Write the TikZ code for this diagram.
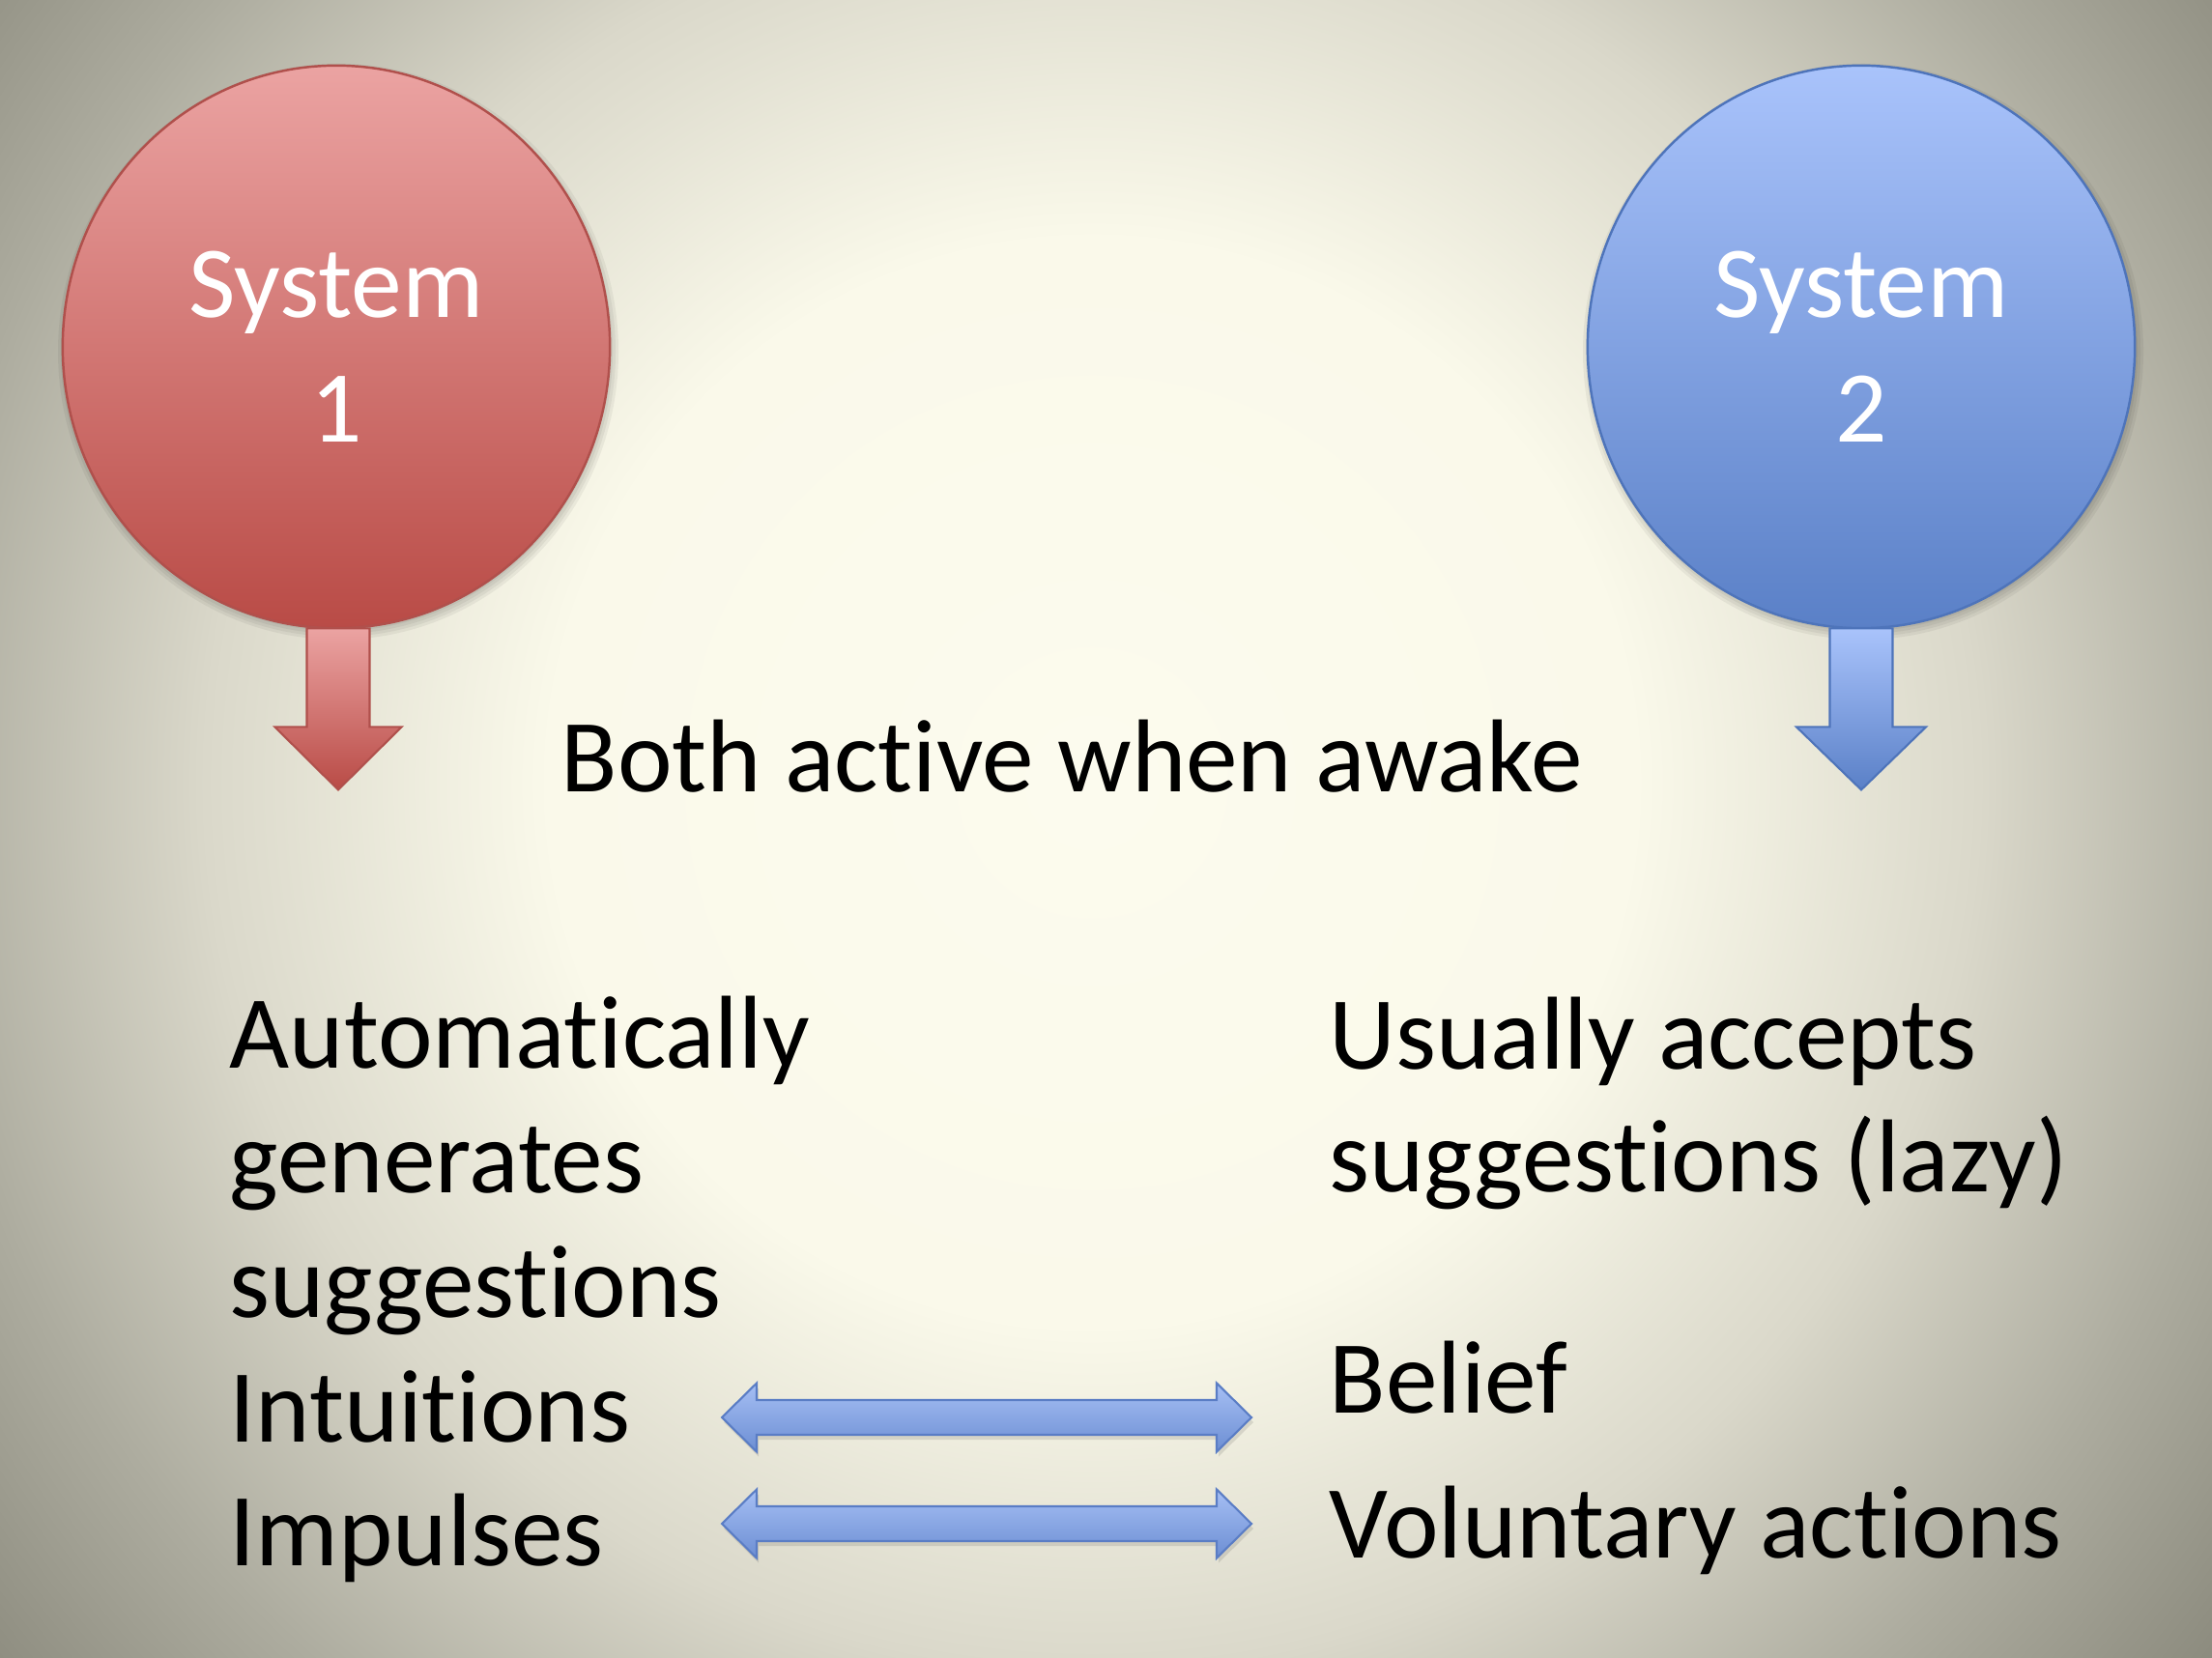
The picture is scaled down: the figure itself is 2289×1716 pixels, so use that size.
\documentclass[tikz,border=0pt]{standalone}
\usepackage{fontspec}
\setmainfont[Ligatures=NoCommon]{Carlito}
\usetikzlibrary{shapes.geometric,calc}

% slide background colours
\definecolor{bgA}{HTML}{FCFBEE}
\definecolor{bgB}{HTML}{FAF9EA}
\definecolor{bgC}{HTML}{DAD8CA}
\definecolor{bgD}{HTML}{ADAC9F}
\definecolor{bgE}{HTML}{8B8A7D}
% shape colours
\definecolor{redTop}{HTML}{EBA3A2}
\definecolor{redBot}{HTML}{B94B46}
\definecolor{redEdge}{HTML}{B0504C}
\definecolor{bluTop}{HTML}{A9C3FB}
\definecolor{bluBot}{HTML}{5A80C7}
\definecolor{bluEdge}{HTML}{4E74BA}
\definecolor{dblTop}{HTML}{A6BFF4}
\definecolor{dblBot}{HTML}{6C8ED3}
\definecolor{dblEdge}{HTML}{5A7DC5}

% the 25bp ring of a radial shading lands on the edge of the shaded circle
\pgfdeclareradialshading{slideglow}{\pgfpoint{0bp}{0bp}}{%
  color(0bp)=(bgA); color(9.5bp)=(bgB); color(15.5bp)=(bgC);
  color(20.5bp)=(bgD); color(25bp)=(bgE); color(50bp)=(bgE)}

\newcommand\ballfont{\fontsize{30}{36.7}\selectfont}
\newcommand\bodyfont{\fontsize{30.5}{36}\selectfont}

\begin{document}
\begin{tikzpicture}[x=0.01cm, y=-0.01cm,
  sysball/.style={ellipse, minimum width=5.66cm, minimum height=5.82cm,
      inner sep=0pt, align=center, text=white, font=\ballfont,
      line width=0.7pt},
  haze/.style={fill=black, fill opacity=0.05, draw=none},
  redfill/.style={top color=redTop, bottom color=redBot, draw=redEdge},
  blufill/.style={top color=bluTop, bottom color=bluBot, draw=bluEdge},
  downarrow/.style={line width=0.6pt, line join=miter},
  dblarrow/.style={top color=dblTop, bottom color=dblBot, draw=dblEdge,
      line width=0.6pt, line join=miter},
  txt/.style={anchor=base west, inner sep=0pt, font=\bodyfont, text=black}]

\useasboundingbox (0,0) rectangle (2289,1716);

% background glow
\begin{scope}
  \clip (0,0) rectangle (2289,1716);
  \fill[bgE] (0,0) rectangle (2289,1716);
  \shade[shading=slideglow] (1130,810) circle[radius=1480];
\end{scope}

% centres of the two systems
\coordinate (c1) at (348,359);
\coordinate (c2) at (1926,359);

% soft shadows under the systems
\foreach \c in {c1,c2}{
  \foreach \g in {0,3,6,9,12}{
    \path[haze] ($(\c)+(2,5)$) ellipse[x radius=290-\g, y radius=298-\g];
  }
}

% the two systems
\node[sysball, redfill] (sys1) at (c1) {System\\1};
\node[sysball, blufill] (sys2) at (c2) {System\\2};

% block arrows hanging below each system
\draw[downarrow, redfill, shift={($(sys1.south)+(2,-1)$)}]
  (-32.5,0) -- (-32.5,102) -- (-65.5,102) -- (0,167) -- (65.5,102)
  -- (32.5,102) -- (32.5,0) -- cycle;
\draw[downarrow, blufill, shift={($(sys2.south)+(0,-1)$)}]
  (-32.5,0) -- (-32.5,102) -- (-67,102) -- (0,167) -- (67,102)
  -- (32.5,102) -- (32.5,0) -- cycle;

\node[txt] (both) at (580,819) {Both active when awake};

% System 1 column
\node[txt] (l1) at (237,1105) {Automatically};
\node[txt] (l2) at (237,1234) {generates};
\node[txt] (l3) at (237,1363) {suggestions};
\node[txt] (l4) at (237,1492) {Intuitions};
\node[txt] (l5) at (237,1620) {Impulses};

% System 2 column
\node[txt] (r1) at (1375,1106) {Usually accepts};
\node[txt] (r2) at (1375,1233) {suggestions (lazy)};
\node[txt] (r3) at (1375,1462) {Belief};
\node[txt] (r4) at (1375,1612) {Voluntary actions};

% two-way arrows between the columns
\coordinate (mA) at (1021,1467);
\coordinate (mB) at (1021,1577);
\foreach \m in {mA,mB}{
  \path[fill=black, fill opacity=0.10, shift={($(\m)+(2,5)$)}]
    (-274,0) -- (-238,-35.5) -- (-238,-18) -- (238,-18) -- (238,-35.5)
    -- (274,0) -- (238,35.5) -- (238,18) -- (-238,18) -- (-238,35.5) -- cycle;
  \draw[dblarrow, shift={(\m)}]
    (-274,0) -- (-238,-35.5) -- (-238,-18) -- (238,-18) -- (238,-35.5)
    -- (274,0) -- (238,35.5) -- (238,18) -- (-238,18) -- (-238,35.5) -- cycle;
}
\end{tikzpicture}
\end{document}
